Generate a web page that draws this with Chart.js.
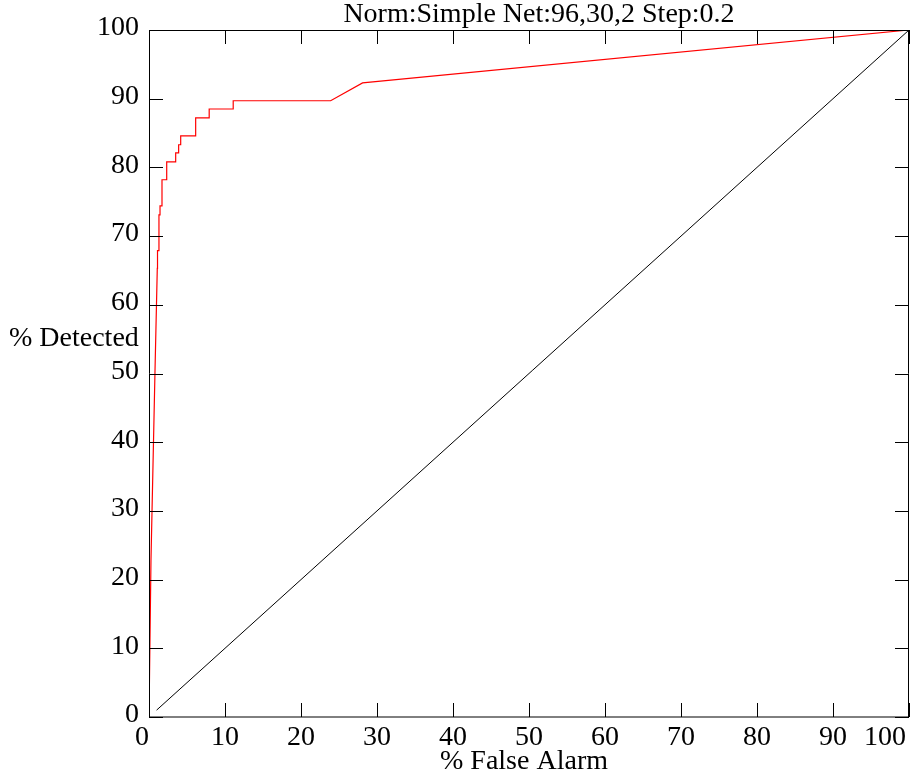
<!DOCTYPE html>
<html>
<head>
<meta charset="utf-8">
<script src="https://cdn.jsdelivr.net/npm/chart.js@4/dist/chart.umd.min.js"></script>
<style>
html,body{margin:0;padding:0;background:#fff;}
#wrap{width:910px;height:776px;}
</style>
</head>
<body>
<div id="wrap"><canvas id="c" width="910" height="776"></canvas></div>
<script>
const titleText = "Norm:Simple Net:96,30,2 Step:0.2";
const xAxisTitle = "% False Alarm";
const yAxisTitle = "% Detected";
const tickValues = [0,10,20,30,40,50,60,70,80,90,100];

// ROC curve (red)
const rocFalseAlarm = [0, 0.26, 0.79, 1.09, 1.12, 1.12, 1.31, 1.31, 1.45, 1.45, 1.71, 1.71, 2.33, 2.33, 3.51, 3.51, 3.90, 3.90, 4.17, 4.17, 6.14, 6.14, 7.92, 7.92, 11.08, 11.08, 23.9, 28.1, 100];
const rocDetected   = [0, 22.8, 50.4, 65.3, 65.3, 67.9, 67.9, 73.1, 73.1, 74.4, 74.4, 78.2, 78.2, 80.8, 80.8, 82.1, 82.1, 83.3, 83.3, 84.6, 84.6, 87.2, 87.2, 88.5, 88.5, 89.7, 89.7, 92.3, 100];

// Chance diagonal (black)
const diagFalseAlarm = [1, 100];
const diagDetected   = [1, 100];

const FONT = '"Liberation Serif", "Times New Roman", serif';

const frame = {
  id: 'frame',
  afterDraw(chart) {
    const ctx = chart.ctx, a = chart.chartArea;
    const xs = chart.scales.x, ys = chart.scales.y;
    ctx.save();
    ctx.strokeStyle = '#000';
    ctx.lineWidth = 1;
    ctx.beginPath();
    ctx.rect(a.left + 0.5, a.top + 0.5, a.right - a.left - 1, a.bottom - a.top - 0.5);
    ctx.stroke();
    const tl = 14;
    ctx.beginPath();
    tickValues.forEach(v => {
      const px = Math.round(xs.getPixelForValue(v)) + 0.5;
      ctx.moveTo(px, a.bottom); ctx.lineTo(px, a.bottom - tl);
      ctx.moveTo(px, a.top); ctx.lineTo(px, a.top + tl);
      const py = Math.round(ys.getPixelForValue(v)) + 0.5;
      ctx.moveTo(a.left, py); ctx.lineTo(a.left + tl, py);
      ctx.moveTo(a.right, py); ctx.lineTo(a.right - tl, py);
    });
    ctx.stroke();
    ctx.fillStyle = '#000';
    ctx.font = '28px ' + FONT;
    ctx.textBaseline = 'middle';
    ctx.textAlign = 'right';
    tickValues.forEach(v => {
      ctx.fillText(String(v), a.left - 10, ys.getPixelForValue(v) - 2);
    });
    ctx.textAlign = 'center';
    tickValues.forEach(v => {
      let px = xs.getPixelForValue(v);
      const w = ctx.measureText(String(v)).width;
      if (px + w / 2 > chart.width - 4) px = chart.width - 4 - w / 2;
      if (v === 0) px -= 7;
      ctx.fillText(String(v), px, a.bottom + 21);
    });
    ctx.fillText(xAxisTitle, (a.left + a.right) / 2 - 5, a.bottom + 45);
    ctx.textAlign = 'left';
    ctx.fillText(yAxisTitle, 9, 339);
    ctx.textAlign = 'center';
    ctx.fillText(titleText, 539, 15);
    ctx.restore();
  }
};

new Chart(document.getElementById('c'), {
  type: 'scatter',
  data: {
    datasets: [
      {
        data: rocFalseAlarm.map((x, i) => ({x: x, y: rocDetected[i]})),
        showLine: true, borderColor: '#ff0000', borderWidth: 1.2,
        pointRadius: 0, fill: false, tension: 0
      },
      {
        data: diagFalseAlarm.map((x, i) => ({x: x, y: diagDetected[i]})),
        showLine: true, borderColor: '#000000', borderWidth: 1,
        pointRadius: 0, fill: false, tension: 0
      }
    ]
  },
  options: {
    responsive: false,
    animation: false,
    devicePixelRatio: 1,
    layout: { padding: { left: 149, top: 30, right: 1, bottom: 59 } },
    plugins: { legend: { display: false }, tooltip: { enabled: false }, title: { display: false } },
    scales: {
      x: { type: 'linear', min: 0, max: 100, display: false },
      y: { type: 'linear', min: 0, max: 100, display: false }
    }
  },
  plugins: [frame]
});
</script>
</body>
</html>
